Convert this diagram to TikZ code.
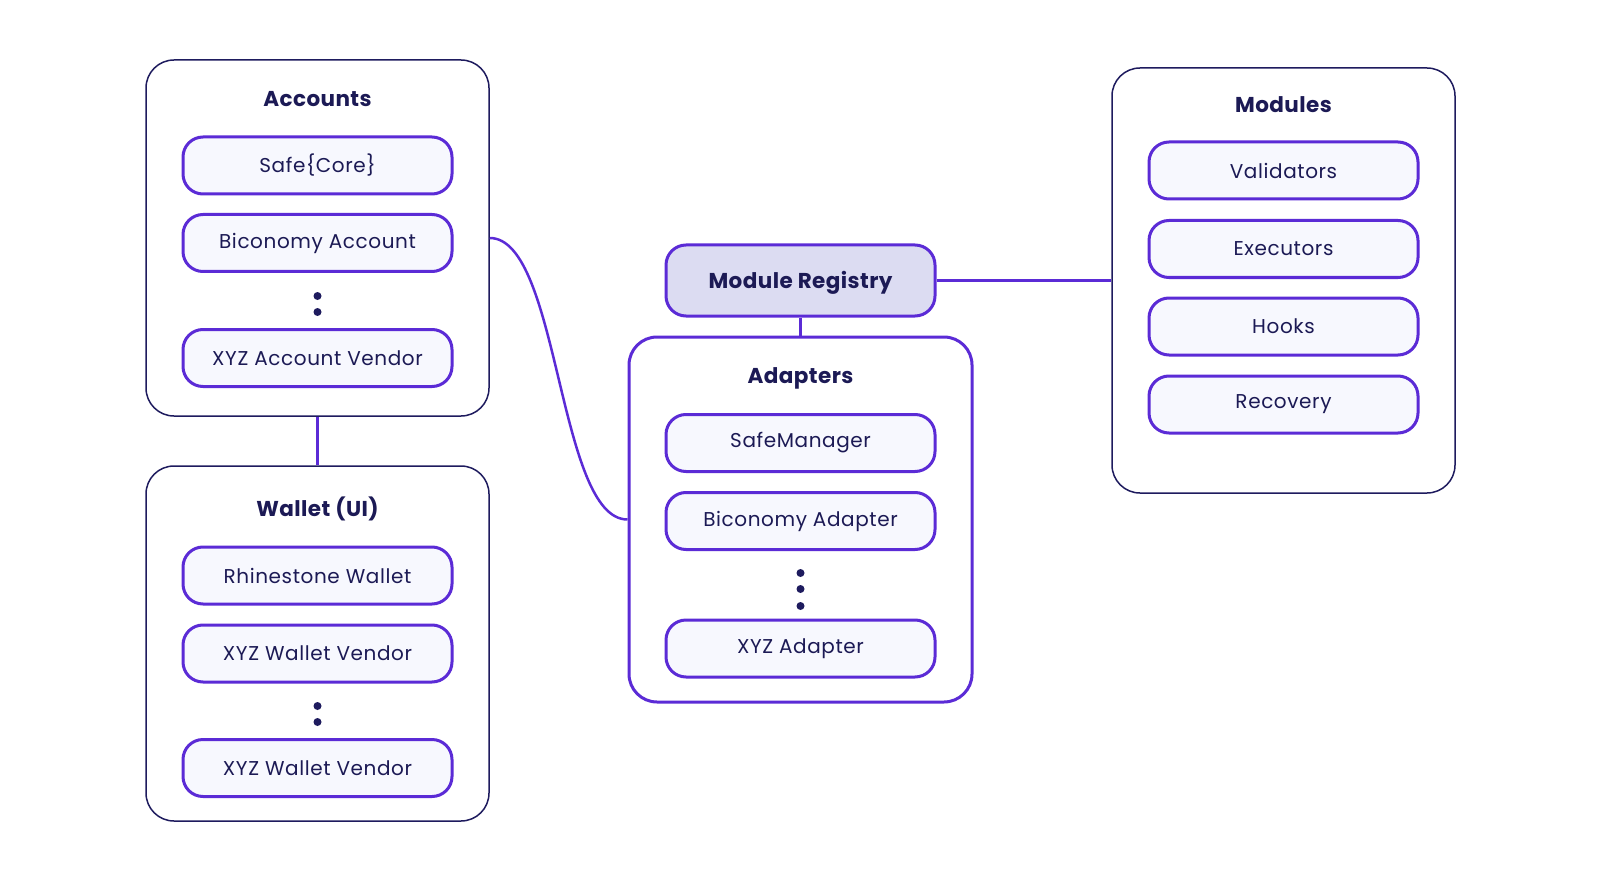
\documentclass[tikz,border=0pt]{standalone}
\usepackage{fontspec}
\setmainfont{Poppins}
\definecolor{purp}{RGB}{91,43,214}
\definecolor{navy}{RGB}{30,27,94}
\definecolor{txt}{RGB}{28,26,85}
\definecolor{itemfill}{RGB}{247,248,254}
\definecolor{regfill}{RGB}{220,220,242}
\tikzset{
  group/.style={draw=navy, line width=1.5pt, rounded corners=28pt, minimum width=343pt, fill=white},
  pgroup/.style={draw=purp, line width=3pt, rounded corners=28pt, minimum width=343pt, fill=white},
  item/.style={draw=purp, line width=3pt, rounded corners=20pt, fill=itemfill, minimum width=269pt, minimum height=57pt, text=txt, font=\fontsize{20}{24}\selectfont\addfontfeatures{LetterSpace=3}, inner sep=0pt},
  title/.style={text=txt, font=\fontsize{21.5}{26}\selectfont\bfseries\addfontfeatures{LetterSpace=2}, inner sep=0pt},
  conn/.style={draw=purp, line width=2.5pt},
  dot/.style={circle, fill=navy, minimum size=8pt, inner sep=0pt}
}
\begin{document}
\begin{tikzpicture}[x=1pt,y=-1pt]
\useasboundingbox (0,0) rectangle (1600,885);
% groups
\node[group, minimum height=356pt] (acc) at (317.5,238) {};
\node[group, minimum height=355pt] (wal) at (317.5,643.5) {};
\node[group, minimum height=425pt] (mod) at (1283.5,280.5) {};
\node[pgroup, minimum height=365pt] (adp) at (800.5,519.5) {};
\node[item, fill=regfill, minimum height=71pt] (reg) at (800.5,280.5) {};
\node[title] (regT) at (800.5,283) {Module Registry};
% connectors
\draw[conn] (acc.south) -- (wal.north);
\draw[conn] (reg.east) -- (mod.west);
\draw[conn] (reg.south) -- (adp.north);
\draw[conn] (acc.east) .. controls +(70,0) and +(-70,0) .. (adp.west);
% titles
\node[title] (accT) at (317.5,99.5) {Accounts};
\node[title] (walT) at (317.5,509) {Wallet (UI)};
\node[title] (modT) at (1283.5,104.5) {Modules};
\node[title] (adpT) at (800.5,378) {Adapters};
% Accounts items
\node[item] (a1) at (317.5,165.5) {Safe\{Core\}};
\node[item] (a2) at (317.5,243) {Biconomy Account};
\node[dot] (ad1) at (317.5,296) {};
\node[dot] (ad2) at (317.5,312) {};
\node[item] (a3) at (317.5,358) {XYZ Account Vendor};
% Wallet items
\node[item] (w1) at (317.5,575.5) {Rhinestone Wallet};
\node[item] (w2) at (317.5,653.5) {XYZ Wallet Vendor};
\node[dot] (wd1) at (317.5,706) {};
\node[dot] (wd2) at (317.5,722) {};
\node[item] (w3) at (317.5,768) {XYZ Wallet Vendor};
% Modules items
\node[item] (m1) at (1283.5,170.5) {Validators};
\node[item] (m2) at (1283.5,249) {Executors};
\node[item] (m3) at (1283.5,326.5) {Hooks};
\node[item] (m4) at (1283.5,404.5) {Recovery};
% Adapters items
\node[item] (p1) at (800.5,443) {SafeManager};
\node[item] (p2) at (800.5,521) {Biconomy Adapter};
\node[dot] (pd1) at (800.5,573) {};
\node[dot] (pd2) at (800.5,589) {};
\node[dot] (pd3) at (800.5,606) {};
\node[item] (p3) at (800.5,648.5) {XYZ Adapter};
\end{tikzpicture}
\end{document}
